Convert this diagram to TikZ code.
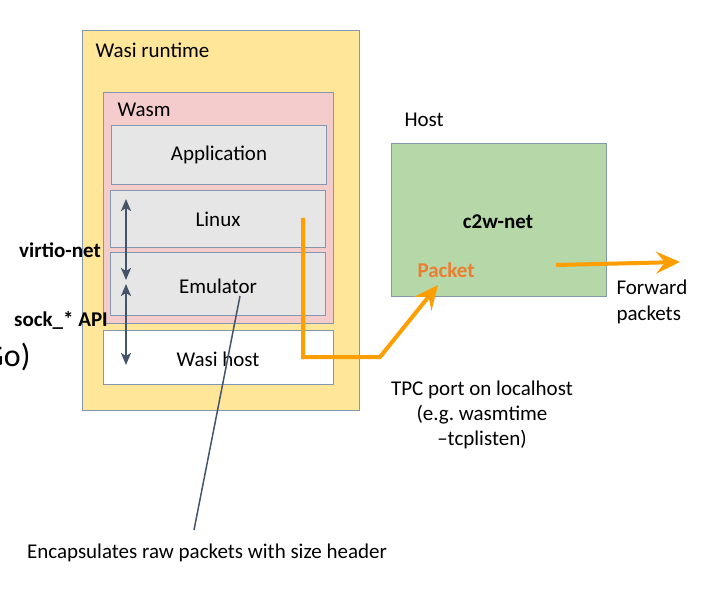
\documentclass[tikz,border=0pt]{standalone}
\usepackage{fontspec}
\setmainfont{Carlito}
\usetikzlibrary{arrows.meta}
\definecolor{runtimeyellow}{HTML}{FFE699}
\definecolor{wasmpink}{HTML}{F4CCCC}
\definecolor{layergray}{HTML}{E7E6E6}
\definecolor{hostgreen}{HTML}{B6D7A8}
\definecolor{edgegray}{HTML}{8497B0}
\definecolor{slate}{HTML}{44546A}
\definecolor{flow}{HTML}{FF9E00}
\definecolor{packetorange}{HTML}{ED7D31}
\begin{document}
\begin{tikzpicture}[x=1pt,y=-1pt, font=\fontsize{21}{25}\selectfont,
    layer/.style={draw=edgegray, line width=1pt, inner sep=0pt, anchor=north west},
    flowline/.style={draw=flow, line width=4pt, -{Stealth[length=24pt,width=22pt,inset=9pt]}},
    iface/.style={draw=slate, line width=2pt, {Stealth[length=12pt,width=10pt,inset=3pt]}-{Stealth[length=12pt,width=10pt,inset=3pt]}}]
  \useasboundingbox (0,0) rectangle (705,591);

  % Wasi runtime (yellow)
  \node[layer, fill=runtimeyellow, minimum width=277pt, minimum height=380pt] (runtime) at (82,30) {};
  \node[anchor=west] (runtimelabel) at (92,50) {Wasi runtime};

  % Wasm (pink)
  \node[layer, fill=wasmpink, minimum width=230pt, minimum height=231pt] (wasm) at (103,92) {};
  \node[anchor=west] (wasmlabel) at (114,110) {Wasm};

  % layers inside Wasm
  \node[layer, fill=layergray, minimum width=215pt, minimum height=59pt] (app) at (111,125) {};
  \node (applabel) at (app.center) {Application};
  \node[layer, fill=layergray, minimum width=215pt, minimum height=57pt] (linux) at (110,190) {};
  \node (linuxlabel) at (linux.center) {Linux};
  \node[layer, fill=layergray, minimum width=215pt, minimum height=63pt] (emu) at (110,252) {};
  \node (emulabel) at (218,286) {Emulator};

  % Wasi host (white)
  \node[layer, fill=white, minimum width=230pt, minimum height=54pt] (wasihost) at (103,330) {};
  \node (wasihostlabel) at (218,359) {Wasi host};

  % interfaces
  \node[font=\fontsize{21}{25}\selectfont\bfseries] (virtio) at (60,250) {virtio-net};
  \node[font=\fontsize{21}{25}\selectfont\bfseries] (sockapi) at (61,320) {sock\_* API};
  \coordinate (v1) at (126,199);
  \coordinate (v2) at (126,280);
  \coordinate (s1) at (126,284);
  \coordinate (s2) at (126,365);
  \draw[iface] (v1) -- (v2);
  \draw[iface] (s1) -- (s2);

  \node[anchor=east, font=\fontsize{32}{34}\selectfont] (golabel) at (34,357) {Go)};

  % Host (green)
  \node[anchor=west] (hostlabel) at (401,120) {Host};
  \node[layer, fill=hostgreen, minimum width=215pt, minimum height=153pt] (c2w) at (391,143) {};
  \node[font=\fontsize{21}{25}\selectfont\bfseries] (c2wlabel) at (498,222) {c2w-net};
  \node[anchor=west, text=packetorange, font=\fontsize{21}{25}\selectfont\bfseries] (packet) at (414,270) {Packet};

  % packet flow
  \coordinate (src) at (303,218);
  \coordinate (bend) at (380,357);
  \coordinate (dst) at (438,285);
  \draw[flowline] (src) |- (bend) -- (dst);
  \coordinate (fwdstart) at (556,265);
  \coordinate (fwdend) at (680,262);
  \draw[flowline] (fwdstart) -- (fwdend);

  \node[anchor=west, align=left, font=\fontsize{21}{26}\selectfont] (fwdlabel) at (613,302) {Forward\\packets};
  \node[align=center, font=\fontsize{21}{25}\selectfont] (tcplabel) at (482,415) {TPC port on localhost\\(e.g.\ wasmtime\\–tcplisten)};

  % encapsulation note
  \node (encaps) at (207,553) {Encapsulates raw packets with size header};
  \coordinate (encfrom) at (240,296);
  \coordinate (encto) at (194,530);
  \draw[slate, line width=1.5pt] (encfrom) -- (encto);
\end{tikzpicture}
\end{document}
